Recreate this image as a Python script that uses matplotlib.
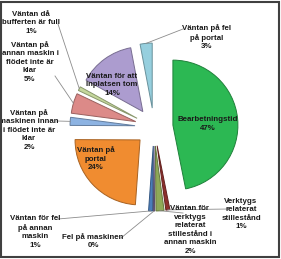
import numpy as np
import matplotlib.pyplot as plt
from matplotlib.patches import Rectangle
from matplotlib.colors import to_rgb

W, H = 281, 259

labels = ['Bearbetningstid', 'Verktygs\nrelaterat\nstillestånd',
          'Väntan för\nverktygs\nrelaterat\nstillestånd i\nannan maskin',
          'Fel på maskinen', 'Väntan för fel\npå annan\nmaskin',
          'Väntan på\nportal', 'Väntan på\nmaskinen innan\ni flödet inte är\nklar',
          'Väntan på\nannan maskin i\nflödet inte är\nklar', 'Väntan då\nbufferten är full',
          'Väntan för att\nInplatsen tom', 'Väntan på fel\npå portal']
values = [47, 1, 2, 0.3, 1, 24, 2, 5, 1, 14, 3]
colors = ['#2CB853', '#8E2F2C', '#8FA957', '#7F6A9A', '#4A7DBA', '#F08C30',
          '#8DB3E2', '#DC8A88', '#C4D79B', '#AC9CCF', '#96CFDE']

# label centres and leader-line starts, in pixels from top-left
label_pos = [(208, 124), (241, 214), (190, 230), (93, 241), (35, 232), (96, 159),
             (29, 130), (30, 62), (31, 23), (112, 85), (207, 37)]
leader_from = [None, (229, 209), (183, 213), (121, 238), (58, 219), None,
               (57, 121), (55, 76), (58, 24), None, (183, 29)]

center_px = (154, 127)
radius = 65
offset = 19

plt.rcParams['font.family'] = ['Liberation Sans Narrow', 'Liberation Sans', 'DejaVu Sans']

fig = plt.figure(figsize=(W / 100, H / 100), dpi=100)
ax = fig.add_axes([0, 0, 1, 1])

cx, cy = center_px[0], H - center_px[1]
wedges, _ = ax.pie(values, colors=colors, startangle=90, counterclock=False,
                   center=(cx, cy), radius=radius, explode=[offset] * len(values),
                   wedgeprops=dict(linewidth=0.7))
for w, c in zip(wedges, colors):
    w.set_edgecolor(tuple(v * 0.7 for v in to_rgb(c)))

ax.set_xlim(0, W)
ax.set_ylim(0, H)
ax.set_aspect('equal')
ax.axis('off')

total = sum(values)
for i, w in enumerate(wedges):
    txt = f'{labels[i]}\n{round(values[i] / total * 100)}%'
    lx, ly = label_pos[i]
    ax.text(lx, H - ly, txt, ha='center', va='center', fontsize=5.7,
            fontweight='bold', color='#1a1a1a', linespacing=1.3)
    if leader_from[i] is not None:
        mid = np.deg2rad((w.theta1 + w.theta2) / 2)
        ex = cx + (offset + radius) * np.cos(mid)
        ey = cy + (offset + radius) * np.sin(mid)
        sx, sy = leader_from[i]
        ax.plot([sx, ex], [H - sy, ey], color='#8c8c8c', linewidth=0.6)

fig.patches.append(Rectangle((0.004, 0.008), 0.988, 0.984, transform=fig.transFigure,
                             fill=False, edgecolor='#404040', linewidth=1.5))

fig.savefig('out.png', dpi=100)
